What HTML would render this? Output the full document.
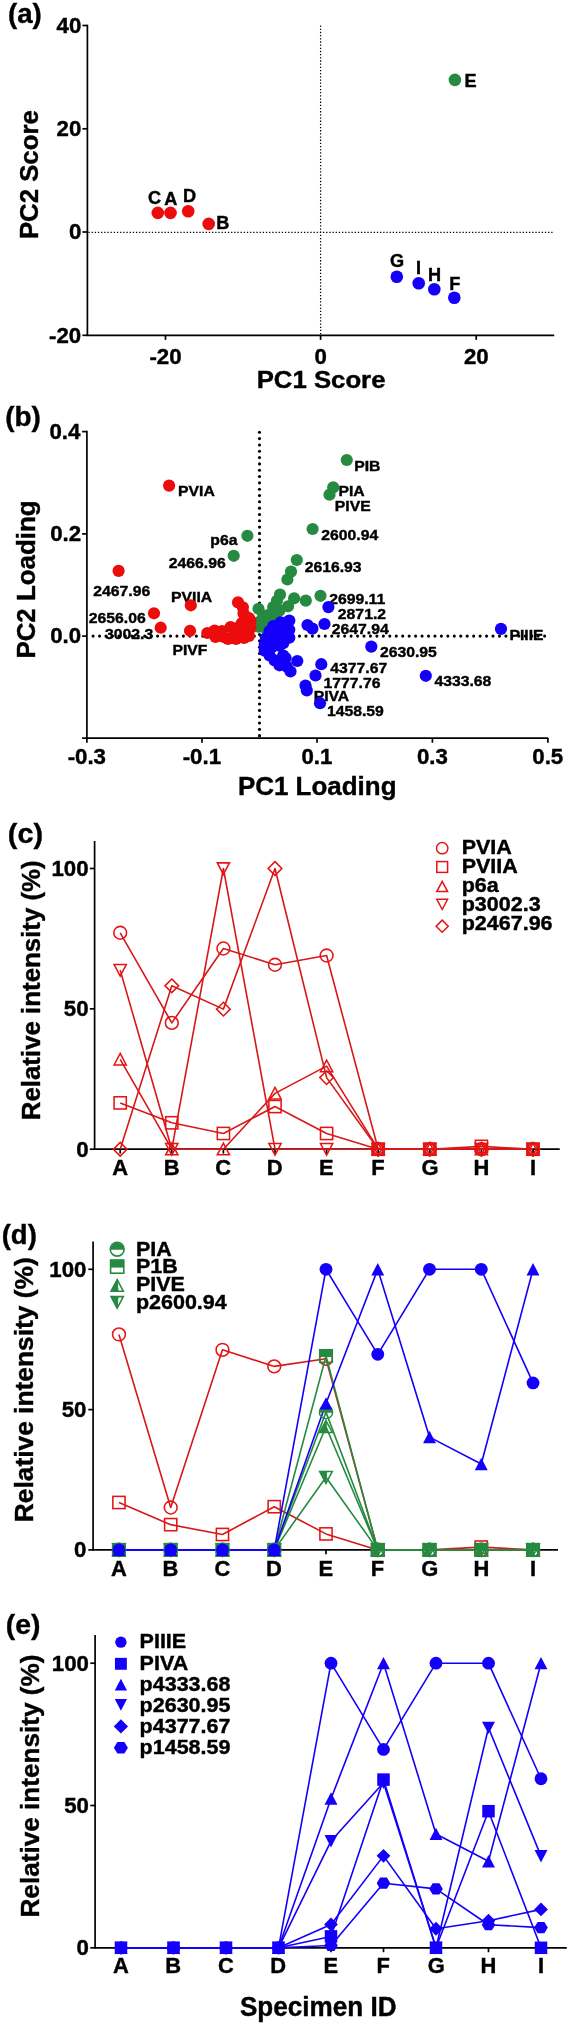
<!DOCTYPE html>
<html><head><meta charset="utf-8"><style>
html,body{margin:0;padding:0;background:#fff;}
svg{display:block;will-change:transform;}
text{font-family:"Liberation Sans",sans-serif;font-weight:bold;}
</style></head><body>
<svg width="570" height="2024" viewBox="0 0 570 2024">
<rect width="570" height="2024" fill="#fff"/>
<text transform="translate(8.02,22.90) scale(0.995,1)" font-size="27.80" fill="#000" stroke="#000" stroke-width="0.40">(a)</text>
<line x1="87.40" y1="24.70" x2="87.40" y2="336.10" stroke="#000" stroke-width="1.7" />
<line x1="86.60" y1="335.30" x2="554.20" y2="335.30" stroke="#000" stroke-width="1.7" />
<line x1="82.40" y1="25.50" x2="87.40" y2="25.50" stroke="#000" stroke-width="1.7" />
<text transform="translate(56.54,32.80) scale(1.045,1)" font-size="21.30" fill="#000" stroke="#000" stroke-width="0.40">40</text>
<line x1="82.40" y1="128.80" x2="87.40" y2="128.80" stroke="#000" stroke-width="1.7" />
<text transform="translate(56.54,136.10) scale(1.045,1)" font-size="21.30" fill="#000" stroke="#000" stroke-width="0.40">20</text>
<line x1="82.40" y1="232.00" x2="87.40" y2="232.00" stroke="#000" stroke-width="1.7" />
<text transform="translate(68.91,239.30) scale(1.045,1)" font-size="21.30" fill="#000" stroke="#000" stroke-width="0.40">0</text>
<line x1="82.40" y1="335.30" x2="87.40" y2="335.30" stroke="#000" stroke-width="1.7" />
<text transform="translate(49.10,342.60) scale(1.045,1)" font-size="21.30" fill="#000" stroke="#000" stroke-width="0.40">-20</text>
<line x1="165.50" y1="335.30" x2="165.50" y2="339.90" stroke="#000" stroke-width="1.7" />
<text transform="translate(149.41,363.50) scale(1.045,1)" font-size="21.30" fill="#000" stroke="#000" stroke-width="0.40">-20</text>
<line x1="320.60" y1="335.30" x2="320.60" y2="339.90" stroke="#000" stroke-width="1.7" />
<text transform="translate(314.41,363.50) scale(1.045,1)" font-size="21.30" fill="#000" stroke="#000" stroke-width="0.40">0</text>
<line x1="476.20" y1="335.30" x2="476.20" y2="339.90" stroke="#000" stroke-width="1.7" />
<text transform="translate(463.89,363.50) scale(1.045,1)" font-size="21.30" fill="#000" stroke="#000" stroke-width="0.40">20</text>
<text transform="translate(256.70,388.40) scale(1.073,1)" font-size="24.00" fill="#000" stroke="#000" stroke-width="0.40">PC1 Score</text>
<text transform="translate(38.20,239.10) rotate(-90) scale(0.973,1)" font-size="26.50" fill="#000" stroke="#000" stroke-width="0.4">PC2 Score</text>
<line x1="88.40" y1="232.40" x2="554.00" y2="232.40" stroke="#000" stroke-width="1.25" stroke-dasharray="1.3 1.87"/>
<line x1="320.60" y1="25.50" x2="320.60" y2="335.30" stroke="#000" stroke-width="1.25" stroke-dasharray="1.3 1.87"/>
<circle cx="157.80" cy="212.90" r="6.3" fill="#EC0C0C"/>
<text transform="translate(147.97,203.60) scale(1.020,1)" font-size="17.80" fill="#000" stroke="#000" stroke-width="0.40">C</text>
<circle cx="170.50" cy="212.90" r="6.3" fill="#EC0C0C"/>
<text transform="translate(164.25,205.00) scale(1.020,1)" font-size="17.80" fill="#000" stroke="#000" stroke-width="0.40">A</text>
<circle cx="188.20" cy="211.30" r="6.3" fill="#EC0C0C"/>
<text transform="translate(182.88,202.20) scale(1.020,1)" font-size="17.80" fill="#000" stroke="#000" stroke-width="0.40">D</text>
<circle cx="208.70" cy="223.90" r="6.3" fill="#EC0C0C"/>
<text transform="translate(216.16,229.30) scale(1.020,1)" font-size="17.80" fill="#000" stroke="#000" stroke-width="0.40">B</text>
<circle cx="454.90" cy="79.90" r="6.3" fill="#268A40"/>
<text transform="translate(464.55,86.60) scale(1.020,1)" font-size="17.80" fill="#000" stroke="#000" stroke-width="0.40">E</text>
<circle cx="396.80" cy="276.80" r="6.3" fill="#1400FA"/>
<text transform="translate(389.97,266.70) scale(1.020,1)" font-size="17.80" fill="#000" stroke="#000" stroke-width="0.40">G</text>
<circle cx="418.70" cy="283.30" r="6.3" fill="#1400FA"/>
<text transform="translate(415.94,273.70) scale(1.020,1)" font-size="17.80" fill="#000" stroke="#000" stroke-width="0.40">I</text>
<circle cx="434.30" cy="289.30" r="6.3" fill="#1400FA"/>
<text transform="translate(427.96,280.50) scale(1.020,1)" font-size="17.80" fill="#000" stroke="#000" stroke-width="0.40">H</text>
<circle cx="454.30" cy="297.70" r="6.3" fill="#1400FA"/>
<text transform="translate(449.19,289.80) scale(1.020,1)" font-size="17.80" fill="#000" stroke="#000" stroke-width="0.40">F</text>
<text transform="translate(5.20,426.40) scale(1.005,1)" font-size="27.80" fill="#000" stroke="#000" stroke-width="0.40">(b)</text>
<line x1="86.90" y1="430.80" x2="86.90" y2="738.90" stroke="#000" stroke-width="1.7" />
<line x1="86.10" y1="738.10" x2="548.10" y2="738.10" stroke="#000" stroke-width="1.7" />
<line x1="82.10" y1="431.60" x2="86.90" y2="431.60" stroke="#000" stroke-width="1.7" />
<text transform="translate(49.49,438.90) scale(1.045,1)" font-size="21.30" fill="#000" stroke="#000" stroke-width="0.40">0.4</text>
<line x1="82.10" y1="533.90" x2="86.90" y2="533.90" stroke="#000" stroke-width="1.7" />
<text transform="translate(50.25,541.20) scale(1.045,1)" font-size="21.30" fill="#000" stroke="#000" stroke-width="0.40">0.2</text>
<line x1="82.10" y1="636.10" x2="86.90" y2="636.10" stroke="#000" stroke-width="1.7" />
<text transform="translate(50.25,643.40) scale(1.045,1)" font-size="21.30" fill="#000" stroke="#000" stroke-width="0.40">0.0</text>
<line x1="82.10" y1="738.10" x2="86.90" y2="738.10" stroke="#000" stroke-width="1.7" />
<line x1="86.90" y1="738.10" x2="86.90" y2="742.70" stroke="#000" stroke-width="1.7" />
<text transform="translate(67.67,764.30) scale(1.045,1)" font-size="21.30" fill="#000" stroke="#000" stroke-width="0.40">-0.3</text>
<line x1="202.00" y1="738.10" x2="202.00" y2="742.70" stroke="#000" stroke-width="1.7" />
<text transform="translate(182.68,764.30) scale(1.045,1)" font-size="21.30" fill="#000" stroke="#000" stroke-width="0.40">-0.1</text>
<line x1="317.00" y1="738.10" x2="317.00" y2="742.70" stroke="#000" stroke-width="1.7" />
<text transform="translate(301.40,764.30) scale(1.045,1)" font-size="21.30" fill="#000" stroke="#000" stroke-width="0.40">0.1</text>
<line x1="432.40" y1="738.10" x2="432.40" y2="742.70" stroke="#000" stroke-width="1.7" />
<text transform="translate(416.89,764.30) scale(1.045,1)" font-size="21.30" fill="#000" stroke="#000" stroke-width="0.40">0.3</text>
<line x1="547.90" y1="738.10" x2="547.90" y2="742.70" stroke="#000" stroke-width="1.7" />
<text transform="translate(532.30,764.30) scale(1.045,1)" font-size="21.30" fill="#000" stroke="#000" stroke-width="0.40">0.5</text>
<text transform="translate(237.89,794.50) scale(0.999,1)" font-size="26.00" fill="#000" stroke="#000" stroke-width="0.40">PC1 Loading</text>
<text transform="translate(34.70,658.61) rotate(-90) scale(0.985,1)" font-size="26.30" fill="#000" stroke="#000" stroke-width="0.4">PC2 Loading</text>
<text transform="translate(178.06,496.00) scale(1.030,1)" font-size="15.30" fill="#000" stroke="#000" stroke-width="0.40">PVIA</text>
<text transform="translate(210.36,545.00) scale(1.030,1)" font-size="15.30" fill="#000" stroke="#000" stroke-width="0.40">p6a</text>
<text transform="translate(168.76,567.60) scale(1.030,1)" font-size="15.30" fill="#000" stroke="#000" stroke-width="0.40">2466.96</text>
<text transform="translate(93.26,596.00) scale(1.030,1)" font-size="15.30" fill="#000" stroke="#000" stroke-width="0.40">2467.96</text>
<text transform="translate(171.06,602.00) scale(1.030,1)" font-size="15.30" fill="#000" stroke="#000" stroke-width="0.40">PVIIA</text>
<text transform="translate(88.76,623.30) scale(1.030,1)" font-size="15.30" fill="#000" stroke="#000" stroke-width="0.40">2656.06</text>
<text transform="translate(105.02,638.60) scale(1.030,1)" font-size="15.30" fill="#000" stroke="#000" stroke-width="0.40">3002.3</text>
<text transform="translate(172.46,654.60) scale(1.030,1)" font-size="15.30" fill="#000" stroke="#000" stroke-width="0.40">PIVF</text>
<text transform="translate(354.16,470.80) scale(1.030,1)" font-size="15.30" fill="#000" stroke="#000" stroke-width="0.40">PIB</text>
<text transform="translate(338.46,496.00) scale(1.030,1)" font-size="15.30" fill="#000" stroke="#000" stroke-width="0.40">PIA</text>
<text transform="translate(334.76,511.00) scale(1.030,1)" font-size="15.30" fill="#000" stroke="#000" stroke-width="0.40">PIVE</text>
<text transform="translate(321.26,540.00) scale(1.030,1)" font-size="15.30" fill="#000" stroke="#000" stroke-width="0.40">2600.94</text>
<text transform="translate(304.66,571.60) scale(1.030,1)" font-size="15.30" fill="#000" stroke="#000" stroke-width="0.40">2616.93</text>
<text transform="translate(329.16,603.70) scale(1.030,1)" font-size="15.30" fill="#000" stroke="#000" stroke-width="0.40">2699.11</text>
<text transform="translate(337.86,619.00) scale(1.030,1)" font-size="15.30" fill="#000" stroke="#000" stroke-width="0.40">2871.2</text>
<text transform="translate(331.76,634.00) scale(1.030,1)" font-size="15.30" fill="#000" stroke="#000" stroke-width="0.40">2647.94</text>
<text transform="translate(379.96,656.80) scale(1.030,1)" font-size="15.30" fill="#000" stroke="#000" stroke-width="0.40">2630.95</text>
<text transform="translate(330.25,673.40) scale(1.030,1)" font-size="15.30" fill="#000" stroke="#000" stroke-width="0.40">4377.67</text>
<text transform="translate(323.52,688.40) scale(1.030,1)" font-size="15.30" fill="#000" stroke="#000" stroke-width="0.40">1777.76</text>
<text transform="translate(313.66,701.00) scale(1.030,1)" font-size="15.30" fill="#000" stroke="#000" stroke-width="0.40">PIVA</text>
<text transform="translate(326.92,715.50) scale(1.030,1)" font-size="15.30" fill="#000" stroke="#000" stroke-width="0.40">1458.59</text>
<text transform="translate(509.46,640.10) scale(1.030,1)" font-size="15.30" fill="#000" stroke="#000" stroke-width="0.40">PIIIE</text>
<text transform="translate(434.45,685.60) scale(1.030,1)" font-size="15.30" fill="#000" stroke="#000" stroke-width="0.40">4333.68</text>
<circle cx="93.10" cy="636.10" r="1.55" fill="#000"/>
<circle cx="99.55" cy="636.10" r="1.55" fill="#000"/>
<circle cx="106.00" cy="636.10" r="1.55" fill="#000"/>
<circle cx="112.45" cy="636.10" r="1.55" fill="#000"/>
<circle cx="118.90" cy="636.10" r="1.55" fill="#000"/>
<circle cx="125.35" cy="636.10" r="1.55" fill="#000"/>
<circle cx="131.80" cy="636.10" r="1.55" fill="#000"/>
<circle cx="138.25" cy="636.10" r="1.55" fill="#000"/>
<circle cx="144.70" cy="636.10" r="1.55" fill="#000"/>
<circle cx="151.15" cy="636.10" r="1.55" fill="#000"/>
<circle cx="157.60" cy="636.10" r="1.55" fill="#000"/>
<circle cx="164.05" cy="636.10" r="1.55" fill="#000"/>
<circle cx="170.50" cy="636.10" r="1.55" fill="#000"/>
<circle cx="176.95" cy="636.10" r="1.55" fill="#000"/>
<circle cx="183.40" cy="636.10" r="1.55" fill="#000"/>
<circle cx="189.85" cy="636.10" r="1.55" fill="#000"/>
<circle cx="196.30" cy="636.10" r="1.55" fill="#000"/>
<circle cx="202.75" cy="636.10" r="1.55" fill="#000"/>
<circle cx="209.20" cy="636.10" r="1.55" fill="#000"/>
<circle cx="215.65" cy="636.10" r="1.55" fill="#000"/>
<circle cx="222.10" cy="636.10" r="1.55" fill="#000"/>
<circle cx="228.55" cy="636.10" r="1.55" fill="#000"/>
<circle cx="235.00" cy="636.10" r="1.55" fill="#000"/>
<circle cx="241.45" cy="636.10" r="1.55" fill="#000"/>
<circle cx="247.90" cy="636.10" r="1.55" fill="#000"/>
<circle cx="254.35" cy="636.10" r="1.55" fill="#000"/>
<circle cx="260.80" cy="636.10" r="1.55" fill="#000"/>
<circle cx="267.25" cy="636.10" r="1.55" fill="#000"/>
<circle cx="273.70" cy="636.10" r="1.55" fill="#000"/>
<circle cx="280.15" cy="636.10" r="1.55" fill="#000"/>
<circle cx="286.60" cy="636.10" r="1.55" fill="#000"/>
<circle cx="293.05" cy="636.10" r="1.55" fill="#000"/>
<circle cx="299.50" cy="636.10" r="1.55" fill="#000"/>
<circle cx="305.95" cy="636.10" r="1.55" fill="#000"/>
<circle cx="312.40" cy="636.10" r="1.55" fill="#000"/>
<circle cx="318.85" cy="636.10" r="1.55" fill="#000"/>
<circle cx="325.30" cy="636.10" r="1.55" fill="#000"/>
<circle cx="331.75" cy="636.10" r="1.55" fill="#000"/>
<circle cx="338.20" cy="636.10" r="1.55" fill="#000"/>
<circle cx="344.65" cy="636.10" r="1.55" fill="#000"/>
<circle cx="351.10" cy="636.10" r="1.55" fill="#000"/>
<circle cx="357.55" cy="636.10" r="1.55" fill="#000"/>
<circle cx="364.00" cy="636.10" r="1.55" fill="#000"/>
<circle cx="370.45" cy="636.10" r="1.55" fill="#000"/>
<circle cx="376.90" cy="636.10" r="1.55" fill="#000"/>
<circle cx="383.35" cy="636.10" r="1.55" fill="#000"/>
<circle cx="389.80" cy="636.10" r="1.55" fill="#000"/>
<circle cx="396.25" cy="636.10" r="1.55" fill="#000"/>
<circle cx="402.70" cy="636.10" r="1.55" fill="#000"/>
<circle cx="409.15" cy="636.10" r="1.55" fill="#000"/>
<circle cx="415.60" cy="636.10" r="1.55" fill="#000"/>
<circle cx="422.05" cy="636.10" r="1.55" fill="#000"/>
<circle cx="428.50" cy="636.10" r="1.55" fill="#000"/>
<circle cx="434.95" cy="636.10" r="1.55" fill="#000"/>
<circle cx="441.40" cy="636.10" r="1.55" fill="#000"/>
<circle cx="447.85" cy="636.10" r="1.55" fill="#000"/>
<circle cx="454.30" cy="636.10" r="1.55" fill="#000"/>
<circle cx="460.75" cy="636.10" r="1.55" fill="#000"/>
<circle cx="467.20" cy="636.10" r="1.55" fill="#000"/>
<circle cx="473.65" cy="636.10" r="1.55" fill="#000"/>
<circle cx="480.10" cy="636.10" r="1.55" fill="#000"/>
<circle cx="486.55" cy="636.10" r="1.55" fill="#000"/>
<circle cx="493.00" cy="636.10" r="1.55" fill="#000"/>
<circle cx="499.45" cy="636.10" r="1.55" fill="#000"/>
<circle cx="505.90" cy="636.10" r="1.55" fill="#000"/>
<circle cx="512.35" cy="636.10" r="1.55" fill="#000"/>
<circle cx="518.80" cy="636.10" r="1.55" fill="#000"/>
<circle cx="525.25" cy="636.10" r="1.55" fill="#000"/>
<circle cx="531.70" cy="636.10" r="1.55" fill="#000"/>
<circle cx="538.15" cy="636.10" r="1.55" fill="#000"/>
<circle cx="544.60" cy="636.10" r="1.55" fill="#000"/>
<circle cx="259.50" cy="432.30" r="1.55" fill="#000"/>
<circle cx="259.50" cy="438.62" r="1.55" fill="#000"/>
<circle cx="259.50" cy="444.94" r="1.55" fill="#000"/>
<circle cx="259.50" cy="451.26" r="1.55" fill="#000"/>
<circle cx="259.50" cy="457.58" r="1.55" fill="#000"/>
<circle cx="259.50" cy="463.90" r="1.55" fill="#000"/>
<circle cx="259.50" cy="470.22" r="1.55" fill="#000"/>
<circle cx="259.50" cy="476.54" r="1.55" fill="#000"/>
<circle cx="259.50" cy="482.86" r="1.55" fill="#000"/>
<circle cx="259.50" cy="489.18" r="1.55" fill="#000"/>
<circle cx="259.50" cy="495.50" r="1.55" fill="#000"/>
<circle cx="259.50" cy="501.82" r="1.55" fill="#000"/>
<circle cx="259.50" cy="508.14" r="1.55" fill="#000"/>
<circle cx="259.50" cy="514.46" r="1.55" fill="#000"/>
<circle cx="259.50" cy="520.78" r="1.55" fill="#000"/>
<circle cx="259.50" cy="527.10" r="1.55" fill="#000"/>
<circle cx="259.50" cy="533.42" r="1.55" fill="#000"/>
<circle cx="259.50" cy="539.74" r="1.55" fill="#000"/>
<circle cx="259.50" cy="546.06" r="1.55" fill="#000"/>
<circle cx="259.50" cy="552.38" r="1.55" fill="#000"/>
<circle cx="259.50" cy="558.70" r="1.55" fill="#000"/>
<circle cx="259.50" cy="565.02" r="1.55" fill="#000"/>
<circle cx="259.50" cy="571.34" r="1.55" fill="#000"/>
<circle cx="259.50" cy="577.66" r="1.55" fill="#000"/>
<circle cx="259.50" cy="583.98" r="1.55" fill="#000"/>
<circle cx="259.50" cy="590.30" r="1.55" fill="#000"/>
<circle cx="259.50" cy="596.62" r="1.55" fill="#000"/>
<circle cx="259.50" cy="602.94" r="1.55" fill="#000"/>
<circle cx="259.50" cy="609.26" r="1.55" fill="#000"/>
<circle cx="259.50" cy="615.58" r="1.55" fill="#000"/>
<circle cx="259.50" cy="621.90" r="1.55" fill="#000"/>
<circle cx="259.50" cy="628.22" r="1.55" fill="#000"/>
<circle cx="259.50" cy="634.54" r="1.55" fill="#000"/>
<circle cx="259.50" cy="640.86" r="1.55" fill="#000"/>
<circle cx="259.50" cy="647.18" r="1.55" fill="#000"/>
<circle cx="259.50" cy="653.50" r="1.55" fill="#000"/>
<circle cx="259.50" cy="659.82" r="1.55" fill="#000"/>
<circle cx="259.50" cy="666.14" r="1.55" fill="#000"/>
<circle cx="259.50" cy="672.46" r="1.55" fill="#000"/>
<circle cx="259.50" cy="678.78" r="1.55" fill="#000"/>
<circle cx="259.50" cy="685.10" r="1.55" fill="#000"/>
<circle cx="259.50" cy="691.42" r="1.55" fill="#000"/>
<circle cx="259.50" cy="697.74" r="1.55" fill="#000"/>
<circle cx="259.50" cy="704.06" r="1.55" fill="#000"/>
<circle cx="259.50" cy="710.38" r="1.55" fill="#000"/>
<circle cx="259.50" cy="716.70" r="1.55" fill="#000"/>
<circle cx="259.50" cy="723.02" r="1.55" fill="#000"/>
<circle cx="259.50" cy="729.34" r="1.55" fill="#000"/>
<circle cx="259.50" cy="735.66" r="1.55" fill="#000"/>
<circle cx="258.50" cy="608.80" r="6.1" fill="#268A40"/>
<circle cx="280.00" cy="594.60" r="6.1" fill="#268A40"/>
<circle cx="276.90" cy="600.80" r="6.1" fill="#268A40"/>
<circle cx="273.20" cy="607.00" r="6.1" fill="#268A40"/>
<circle cx="263.40" cy="615.50" r="6.1" fill="#268A40"/>
<circle cx="269.60" cy="614.30" r="6.1" fill="#268A40"/>
<circle cx="275.70" cy="611.80" r="6.1" fill="#268A40"/>
<circle cx="279.40" cy="610.60" r="6.1" fill="#268A40"/>
<circle cx="259.70" cy="621.70" r="6.1" fill="#268A40"/>
<circle cx="267.10" cy="621.70" r="6.1" fill="#268A40"/>
<circle cx="275.70" cy="619.20" r="6.1" fill="#268A40"/>
<circle cx="258.50" cy="626.60" r="6.1" fill="#268A40"/>
<circle cx="264.60" cy="627.80" r="6.1" fill="#268A40"/>
<circle cx="270.00" cy="625.00" r="6.1" fill="#268A40"/>
<circle cx="346.80" cy="460.00" r="6.1" fill="#268A40"/>
<circle cx="333.20" cy="487.40" r="6.1" fill="#268A40"/>
<circle cx="329.50" cy="494.70" r="6.1" fill="#268A40"/>
<circle cx="312.60" cy="529.00" r="6.1" fill="#268A40"/>
<circle cx="296.80" cy="560.00" r="6.1" fill="#268A40"/>
<circle cx="291.00" cy="571.60" r="6.1" fill="#268A40"/>
<circle cx="287.40" cy="579.50" r="6.1" fill="#268A40"/>
<circle cx="247.40" cy="535.80" r="6.1" fill="#268A40"/>
<circle cx="233.70" cy="555.80" r="6.1" fill="#268A40"/>
<circle cx="320.50" cy="595.80" r="6.1" fill="#268A40"/>
<circle cx="305.80" cy="600.60" r="6.1" fill="#268A40"/>
<circle cx="294.10" cy="598.30" r="6.1" fill="#268A40"/>
<circle cx="288.00" cy="606.30" r="6.1" fill="#268A40"/>
<circle cx="250.50" cy="620.50" r="6.1" fill="#EC0C0C"/>
<circle cx="250.50" cy="628.00" r="6.1" fill="#EC0C0C"/>
<circle cx="238.00" cy="602.40" r="6.1" fill="#EC0C0C"/>
<circle cx="242.90" cy="607.30" r="6.1" fill="#EC0C0C"/>
<circle cx="243.50" cy="613.40" r="6.1" fill="#EC0C0C"/>
<circle cx="249.00" cy="618.00" r="6.1" fill="#EC0C0C"/>
<circle cx="241.70" cy="623.20" r="6.1" fill="#EC0C0C"/>
<circle cx="249.00" cy="622.00" r="6.1" fill="#EC0C0C"/>
<circle cx="250.00" cy="627.00" r="6.1" fill="#EC0C0C"/>
<circle cx="247.80" cy="631.80" r="6.1" fill="#EC0C0C"/>
<circle cx="249.00" cy="636.00" r="6.1" fill="#EC0C0C"/>
<circle cx="240.40" cy="634.30" r="6.1" fill="#EC0C0C"/>
<circle cx="233.00" cy="636.80" r="6.1" fill="#EC0C0C"/>
<circle cx="230.60" cy="627.00" r="6.1" fill="#EC0C0C"/>
<circle cx="237.00" cy="628.00" r="6.1" fill="#EC0C0C"/>
<circle cx="223.20" cy="636.80" r="6.1" fill="#EC0C0C"/>
<circle cx="222.00" cy="631.00" r="6.1" fill="#EC0C0C"/>
<circle cx="214.60" cy="630.60" r="6.1" fill="#EC0C0C"/>
<circle cx="215.50" cy="637.00" r="6.1" fill="#EC0C0C"/>
<circle cx="207.30" cy="633.00" r="6.1" fill="#EC0C0C"/>
<circle cx="228.00" cy="639.00" r="6.1" fill="#EC0C0C"/>
<circle cx="236.00" cy="639.00" r="6.1" fill="#EC0C0C"/>
<circle cx="244.00" cy="638.00" r="6.1" fill="#EC0C0C"/>
<circle cx="169.10" cy="485.60" r="6.1" fill="#EC0C0C"/>
<circle cx="118.60" cy="570.90" r="6.1" fill="#EC0C0C"/>
<circle cx="190.80" cy="605.30" r="6.1" fill="#EC0C0C"/>
<circle cx="154.00" cy="613.30" r="6.1" fill="#EC0C0C"/>
<circle cx="160.70" cy="627.70" r="6.1" fill="#EC0C0C"/>
<circle cx="190.00" cy="630.80" r="6.1" fill="#EC0C0C"/>
<circle cx="289.30" cy="620.50" r="6.1" fill="#1400FA"/>
<circle cx="280.70" cy="622.40" r="6.1" fill="#1400FA"/>
<circle cx="273.30" cy="626.00" r="6.1" fill="#1400FA"/>
<circle cx="269.60" cy="631.00" r="6.1" fill="#1400FA"/>
<circle cx="289.30" cy="629.70" r="6.1" fill="#1400FA"/>
<circle cx="289.30" cy="637.70" r="6.1" fill="#1400FA"/>
<circle cx="281.90" cy="638.30" r="6.1" fill="#1400FA"/>
<circle cx="274.60" cy="637.10" r="6.1" fill="#1400FA"/>
<circle cx="264.70" cy="644.50" r="6.1" fill="#1400FA"/>
<circle cx="264.70" cy="650.60" r="6.1" fill="#1400FA"/>
<circle cx="272.10" cy="647.00" r="6.1" fill="#1400FA"/>
<circle cx="279.50" cy="645.70" r="6.1" fill="#1400FA"/>
<circle cx="283.20" cy="643.20" r="6.1" fill="#1400FA"/>
<circle cx="269.60" cy="655.50" r="6.1" fill="#1400FA"/>
<circle cx="274.60" cy="660.40" r="6.1" fill="#1400FA"/>
<circle cx="279.50" cy="665.30" r="6.1" fill="#1400FA"/>
<circle cx="283.20" cy="655.50" r="6.1" fill="#1400FA"/>
<circle cx="285.60" cy="658.00" r="6.1" fill="#1400FA"/>
<circle cx="286.80" cy="666.60" r="6.1" fill="#1400FA"/>
<circle cx="266.00" cy="638.00" r="6.1" fill="#1400FA"/>
<circle cx="276.90" cy="630.00" r="6.1" fill="#1400FA"/>
<circle cx="284.00" cy="631.00" r="6.1" fill="#1400FA"/>
<circle cx="268.00" cy="650.00" r="6.1" fill="#1400FA"/>
<circle cx="501.00" cy="628.90" r="6.1" fill="#1400FA"/>
<circle cx="425.80" cy="675.80" r="6.1" fill="#1400FA"/>
<circle cx="371.30" cy="646.60" r="6.1" fill="#1400FA"/>
<circle cx="328.40" cy="607.10" r="6.1" fill="#1400FA"/>
<circle cx="324.50" cy="624.00" r="6.1" fill="#1400FA"/>
<circle cx="312.40" cy="628.60" r="6.1" fill="#1400FA"/>
<circle cx="307.50" cy="625.00" r="6.1" fill="#1400FA"/>
<circle cx="321.30" cy="664.20" r="6.1" fill="#1400FA"/>
<circle cx="315.50" cy="675.50" r="6.1" fill="#1400FA"/>
<circle cx="305.50" cy="685.50" r="6.1" fill="#1400FA"/>
<circle cx="306.80" cy="690.50" r="6.1" fill="#1400FA"/>
<circle cx="320.00" cy="703.20" r="6.1" fill="#1400FA"/>
<circle cx="297.30" cy="661.00" r="6.1" fill="#1400FA"/>
<circle cx="290.50" cy="671.50" r="6.1" fill="#1400FA"/>
<text transform="translate(7.86,842.50) scale(1.034,1)" font-size="27.80" fill="#000" stroke="#000" stroke-width="0.40">(c)</text>
<line x1="94.60" y1="841.00" x2="94.60" y2="1150.00" stroke="#000" stroke-width="1.7" />
<line x1="93.80" y1="1149.20" x2="559.70" y2="1149.20" stroke="#000" stroke-width="1.7" />
<line x1="89.80" y1="868.50" x2="94.60" y2="868.50" stroke="#000" stroke-width="1.7" />
<text transform="translate(51.46,875.80) scale(1.045,1)" font-size="21.30" fill="#000" stroke="#000" stroke-width="0.40">100</text>
<line x1="89.80" y1="1008.85" x2="94.60" y2="1008.85" stroke="#000" stroke-width="1.7" />
<text transform="translate(63.84,1016.15) scale(1.045,1)" font-size="21.30" fill="#000" stroke="#000" stroke-width="0.40">50</text>
<line x1="89.80" y1="1149.20" x2="94.60" y2="1149.20" stroke="#000" stroke-width="1.7" />
<text transform="translate(76.21,1156.50) scale(1.045,1)" font-size="21.30" fill="#000" stroke="#000" stroke-width="0.40">0</text>
<line x1="120.20" y1="1149.20" x2="120.20" y2="1153.60" stroke="#000" stroke-width="1.7" />
<text transform="translate(112.28,1174.50) scale(1.020,1)" font-size="21.50" fill="#000" stroke="#000" stroke-width="0.40">A</text>
<line x1="171.80" y1="1149.20" x2="171.80" y2="1153.60" stroke="#000" stroke-width="1.7" />
<text transform="translate(163.66,1174.50) scale(1.020,1)" font-size="21.50" fill="#000" stroke="#000" stroke-width="0.40">B</text>
<line x1="223.40" y1="1149.20" x2="223.40" y2="1153.60" stroke="#000" stroke-width="1.7" />
<text transform="translate(215.33,1174.50) scale(1.020,1)" font-size="21.50" fill="#000" stroke="#000" stroke-width="0.40">C</text>
<line x1="275.00" y1="1149.20" x2="275.00" y2="1153.60" stroke="#000" stroke-width="1.7" />
<text transform="translate(266.82,1174.50) scale(1.020,1)" font-size="21.50" fill="#000" stroke="#000" stroke-width="0.40">D</text>
<line x1="326.60" y1="1149.20" x2="326.60" y2="1153.60" stroke="#000" stroke-width="1.7" />
<text transform="translate(318.99,1174.50) scale(1.020,1)" font-size="21.50" fill="#000" stroke="#000" stroke-width="0.40">E</text>
<line x1="378.20" y1="1149.20" x2="378.20" y2="1153.60" stroke="#000" stroke-width="1.7" />
<text transform="translate(371.18,1174.50) scale(1.020,1)" font-size="21.50" fill="#000" stroke="#000" stroke-width="0.40">F</text>
<line x1="429.80" y1="1149.20" x2="429.80" y2="1153.60" stroke="#000" stroke-width="1.7" />
<text transform="translate(421.49,1174.50) scale(1.020,1)" font-size="21.50" fill="#000" stroke="#000" stroke-width="0.40">G</text>
<line x1="481.40" y1="1149.20" x2="481.40" y2="1153.60" stroke="#000" stroke-width="1.7" />
<text transform="translate(473.51,1174.50) scale(1.020,1)" font-size="21.50" fill="#000" stroke="#000" stroke-width="0.40">H</text>
<line x1="533.00" y1="1149.20" x2="533.00" y2="1153.60" stroke="#000" stroke-width="1.7" />
<text transform="translate(529.97,1174.50) scale(1.020,1)" font-size="21.50" fill="#000" stroke="#000" stroke-width="0.40">I</text>
<text transform="translate(40.00,1120.21) rotate(-90) scale(0.983,1)" font-size="26.30" fill="#000" stroke="#000" stroke-width="0.4">Relative intensity (%)</text>
<polyline points="120.20,932.78 171.80,1022.88 223.40,948.50 275.00,964.78 326.60,955.52 378.20,1149.20 429.80,1149.20 481.40,1149.20 533.00,1149.20" fill="none" stroke="#D81818" stroke-width="1.6" stroke-linejoin="round"/>
<polyline points="120.20,1102.88 171.80,1122.81 223.40,1133.48 275.00,1106.53 326.60,1133.48 378.20,1149.20 429.80,1149.20 481.40,1146.39 533.00,1149.20" fill="none" stroke="#D81818" stroke-width="1.6" stroke-linejoin="round"/>
<polyline points="120.20,1059.38 171.80,1149.20 223.40,1149.20 275.00,1093.34 326.60,1066.11 378.20,1149.20 429.80,1149.20 481.40,1149.20 533.00,1149.20" fill="none" stroke="#D81818" stroke-width="1.6" stroke-linejoin="round"/>
<polyline points="120.20,970.11 171.80,1149.20 223.40,868.50 275.00,1149.20 326.60,1149.20 378.20,1149.20 429.80,1149.20 481.40,1149.20 533.00,1149.20" fill="none" stroke="#D81818" stroke-width="1.6" stroke-linejoin="round"/>
<polyline points="120.20,1149.20 171.80,985.83 223.40,1009.13 275.00,868.50 326.60,1077.62 378.20,1149.20 429.80,1149.20 481.40,1149.20 533.00,1149.20" fill="none" stroke="#D81818" stroke-width="1.6" stroke-linejoin="round"/>
<circle cx="120.20" cy="932.78" r="6.41" fill="none" stroke="#E41414" stroke-width="1.55"/>
<circle cx="171.80" cy="1022.88" r="6.41" fill="none" stroke="#E41414" stroke-width="1.55"/>
<circle cx="223.40" cy="948.50" r="6.41" fill="none" stroke="#E41414" stroke-width="1.55"/>
<circle cx="275.00" cy="964.78" r="6.41" fill="none" stroke="#E41414" stroke-width="1.55"/>
<circle cx="326.60" cy="955.52" r="6.41" fill="none" stroke="#E41414" stroke-width="1.55"/>
<circle cx="378.20" cy="1149.20" r="6.41" fill="none" stroke="#E41414" stroke-width="1.55"/>
<circle cx="429.80" cy="1149.20" r="6.41" fill="none" stroke="#E41414" stroke-width="1.55"/>
<circle cx="481.40" cy="1149.20" r="6.41" fill="none" stroke="#E41414" stroke-width="1.55"/>
<circle cx="533.00" cy="1149.20" r="6.41" fill="none" stroke="#E41414" stroke-width="1.55"/>
<rect x="114.10" y="1096.78" width="12.20" height="12.20" fill="none" stroke="#E41414" stroke-width="1.55"/>
<rect x="165.70" y="1116.71" width="12.20" height="12.20" fill="none" stroke="#E41414" stroke-width="1.55"/>
<rect x="217.30" y="1127.38" width="12.20" height="12.20" fill="none" stroke="#E41414" stroke-width="1.55"/>
<rect x="268.90" y="1100.43" width="12.20" height="12.20" fill="none" stroke="#E41414" stroke-width="1.55"/>
<rect x="320.50" y="1127.38" width="12.20" height="12.20" fill="none" stroke="#E41414" stroke-width="1.55"/>
<rect x="372.10" y="1143.10" width="12.20" height="12.20" fill="none" stroke="#E41414" stroke-width="1.55"/>
<rect x="423.70" y="1143.10" width="12.20" height="12.20" fill="none" stroke="#E41414" stroke-width="1.55"/>
<rect x="475.30" y="1140.29" width="12.20" height="12.20" fill="none" stroke="#E41414" stroke-width="1.55"/>
<rect x="526.90" y="1143.10" width="12.20" height="12.20" fill="none" stroke="#E41414" stroke-width="1.55"/>
<polygon points="120.20,1053.40 126.30,1064.99 114.10,1064.99" fill="none" stroke="#E41414" stroke-width="1.55" stroke-linejoin="miter"/>
<polygon points="171.80,1143.22 177.90,1154.81 165.70,1154.81" fill="none" stroke="#E41414" stroke-width="1.55" stroke-linejoin="miter"/>
<polygon points="223.40,1143.22 229.50,1154.81 217.30,1154.81" fill="none" stroke="#E41414" stroke-width="1.55" stroke-linejoin="miter"/>
<polygon points="275.00,1087.36 281.10,1098.95 268.90,1098.95" fill="none" stroke="#E41414" stroke-width="1.55" stroke-linejoin="miter"/>
<polygon points="326.60,1060.13 332.70,1071.72 320.50,1071.72" fill="none" stroke="#E41414" stroke-width="1.55" stroke-linejoin="miter"/>
<polygon points="378.20,1143.22 384.30,1154.81 372.10,1154.81" fill="none" stroke="#E41414" stroke-width="1.55" stroke-linejoin="miter"/>
<polygon points="429.80,1143.22 435.90,1154.81 423.70,1154.81" fill="none" stroke="#E41414" stroke-width="1.55" stroke-linejoin="miter"/>
<polygon points="481.40,1143.22 487.50,1154.81 475.30,1154.81" fill="none" stroke="#E41414" stroke-width="1.55" stroke-linejoin="miter"/>
<polygon points="533.00,1143.22 539.10,1154.81 526.90,1154.81" fill="none" stroke="#E41414" stroke-width="1.55" stroke-linejoin="miter"/>
<polygon points="120.20,976.09 126.30,964.50 114.10,964.50" fill="none" stroke="#E41414" stroke-width="1.55" stroke-linejoin="miter"/>
<polygon points="171.80,1155.18 177.90,1143.59 165.70,1143.59" fill="none" stroke="#E41414" stroke-width="1.55" stroke-linejoin="miter"/>
<polygon points="223.40,874.48 229.50,862.89 217.30,862.89" fill="none" stroke="#E41414" stroke-width="1.55" stroke-linejoin="miter"/>
<polygon points="275.00,1155.18 281.10,1143.59 268.90,1143.59" fill="none" stroke="#E41414" stroke-width="1.55" stroke-linejoin="miter"/>
<polygon points="326.60,1155.18 332.70,1143.59 320.50,1143.59" fill="none" stroke="#E41414" stroke-width="1.55" stroke-linejoin="miter"/>
<polygon points="378.20,1155.18 384.30,1143.59 372.10,1143.59" fill="none" stroke="#E41414" stroke-width="1.55" stroke-linejoin="miter"/>
<polygon points="429.80,1155.18 435.90,1143.59 423.70,1143.59" fill="none" stroke="#E41414" stroke-width="1.55" stroke-linejoin="miter"/>
<polygon points="481.40,1155.18 487.50,1143.59 475.30,1143.59" fill="none" stroke="#E41414" stroke-width="1.55" stroke-linejoin="miter"/>
<polygon points="533.00,1155.18 539.10,1143.59 526.90,1143.59" fill="none" stroke="#E41414" stroke-width="1.55" stroke-linejoin="miter"/>
<polygon points="120.20,1142.37 127.03,1149.20 120.20,1156.03 113.37,1149.20" fill="none" stroke="#E41414" stroke-width="1.55" stroke-linejoin="miter"/>
<polygon points="171.80,979.00 178.63,985.83 171.80,992.66 164.97,985.83" fill="none" stroke="#E41414" stroke-width="1.55" stroke-linejoin="miter"/>
<polygon points="223.40,1002.30 230.23,1009.13 223.40,1015.96 216.57,1009.13" fill="none" stroke="#E41414" stroke-width="1.55" stroke-linejoin="miter"/>
<polygon points="275.00,861.67 281.83,868.50 275.00,875.33 268.17,868.50" fill="none" stroke="#E41414" stroke-width="1.55" stroke-linejoin="miter"/>
<polygon points="326.60,1070.79 333.43,1077.62 326.60,1084.45 319.77,1077.62" fill="none" stroke="#E41414" stroke-width="1.55" stroke-linejoin="miter"/>
<polygon points="378.20,1142.37 385.03,1149.20 378.20,1156.03 371.37,1149.20" fill="none" stroke="#E41414" stroke-width="1.55" stroke-linejoin="miter"/>
<polygon points="429.80,1142.37 436.63,1149.20 429.80,1156.03 422.97,1149.20" fill="none" stroke="#E41414" stroke-width="1.55" stroke-linejoin="miter"/>
<polygon points="481.40,1142.37 488.23,1149.20 481.40,1156.03 474.57,1149.20" fill="none" stroke="#E41414" stroke-width="1.55" stroke-linejoin="miter"/>
<polygon points="533.00,1142.37 539.83,1149.20 533.00,1156.03 526.17,1149.20" fill="none" stroke="#E41414" stroke-width="1.55" stroke-linejoin="miter"/>
<circle cx="442.20" cy="848.20" r="5.67" fill="none" stroke="#E41414" stroke-width="1.5"/>
<text transform="translate(461.68,854.40) scale(1.060,1)" font-size="20.30" fill="#000" stroke="#000" stroke-width="0.40">PVIA</text>
<rect x="436.80" y="861.60" width="10.80" height="10.80" fill="none" stroke="#E41414" stroke-width="1.5"/>
<text transform="translate(461.68,872.60) scale(1.060,1)" font-size="20.30" fill="#000" stroke="#000" stroke-width="0.40">PVIIA</text>
<polygon points="442.20,881.31 447.60,891.57 436.80,891.57" fill="none" stroke="#E41414" stroke-width="1.5" stroke-linejoin="miter"/>
<text transform="translate(461.68,891.90) scale(1.060,1)" font-size="20.30" fill="#000" stroke="#000" stroke-width="0.40">p6a</text>
<polygon points="442.20,909.49 447.60,899.23 436.80,899.23" fill="none" stroke="#E41414" stroke-width="1.5" stroke-linejoin="miter"/>
<text transform="translate(461.68,911.20) scale(1.060,1)" font-size="20.30" fill="#000" stroke="#000" stroke-width="0.40">p3002.3</text>
<polygon points="442.20,920.15 448.25,926.20 442.20,932.25 436.15,926.20" fill="none" stroke="#E41414" stroke-width="1.5" stroke-linejoin="miter"/>
<text transform="translate(461.68,930.30) scale(1.060,1)" font-size="20.30" fill="#000" stroke="#000" stroke-width="0.40">p2467.96</text>
<text transform="translate(1.72,1244.00) scale(0.989,1)" font-size="27.80" fill="#000" stroke="#000" stroke-width="0.40">(d)</text>
<line x1="93.10" y1="1241.60" x2="93.10" y2="1550.70" stroke="#000" stroke-width="1.7" />
<line x1="92.30" y1="1549.90" x2="558.00" y2="1549.90" stroke="#000" stroke-width="1.7" />
<line x1="88.30" y1="1269.30" x2="93.10" y2="1269.30" stroke="#000" stroke-width="1.7" />
<text transform="translate(49.26,1276.60) scale(1.045,1)" font-size="21.30" fill="#000" stroke="#000" stroke-width="0.40">100</text>
<line x1="88.30" y1="1409.60" x2="93.10" y2="1409.60" stroke="#000" stroke-width="1.7" />
<text transform="translate(61.64,1416.90) scale(1.045,1)" font-size="21.30" fill="#000" stroke="#000" stroke-width="0.40">50</text>
<line x1="88.30" y1="1549.90" x2="93.10" y2="1549.90" stroke="#000" stroke-width="1.7" />
<text transform="translate(74.01,1557.20) scale(1.045,1)" font-size="21.30" fill="#000" stroke="#000" stroke-width="0.40">0</text>
<line x1="118.95" y1="1549.90" x2="118.95" y2="1554.30" stroke="#000" stroke-width="1.7" />
<text transform="translate(111.03,1575.90) scale(1.020,1)" font-size="21.50" fill="#000" stroke="#000" stroke-width="0.40">A</text>
<line x1="170.71" y1="1549.90" x2="170.71" y2="1554.30" stroke="#000" stroke-width="1.7" />
<text transform="translate(162.57,1575.90) scale(1.020,1)" font-size="21.50" fill="#000" stroke="#000" stroke-width="0.40">B</text>
<line x1="222.47" y1="1549.90" x2="222.47" y2="1554.30" stroke="#000" stroke-width="1.7" />
<text transform="translate(214.40,1575.90) scale(1.020,1)" font-size="21.50" fill="#000" stroke="#000" stroke-width="0.40">C</text>
<line x1="274.23" y1="1549.90" x2="274.23" y2="1554.30" stroke="#000" stroke-width="1.7" />
<text transform="translate(266.05,1575.90) scale(1.020,1)" font-size="21.50" fill="#000" stroke="#000" stroke-width="0.40">D</text>
<line x1="325.99" y1="1549.90" x2="325.99" y2="1554.30" stroke="#000" stroke-width="1.7" />
<text transform="translate(318.38,1575.90) scale(1.020,1)" font-size="21.50" fill="#000" stroke="#000" stroke-width="0.40">E</text>
<line x1="377.75" y1="1549.90" x2="377.75" y2="1554.30" stroke="#000" stroke-width="1.7" />
<text transform="translate(370.73,1575.90) scale(1.020,1)" font-size="21.50" fill="#000" stroke="#000" stroke-width="0.40">F</text>
<line x1="429.51" y1="1549.90" x2="429.51" y2="1554.30" stroke="#000" stroke-width="1.7" />
<text transform="translate(421.20,1575.90) scale(1.020,1)" font-size="21.50" fill="#000" stroke="#000" stroke-width="0.40">G</text>
<line x1="481.27" y1="1549.90" x2="481.27" y2="1554.30" stroke="#000" stroke-width="1.7" />
<text transform="translate(473.38,1575.90) scale(1.020,1)" font-size="21.50" fill="#000" stroke="#000" stroke-width="0.40">H</text>
<line x1="533.03" y1="1549.90" x2="533.03" y2="1554.30" stroke="#000" stroke-width="1.7" />
<text transform="translate(530.00,1575.90) scale(1.020,1)" font-size="21.50" fill="#000" stroke="#000" stroke-width="0.40">I</text>
<text transform="translate(33.30,1522.24) rotate(-90) scale(1.002,1)" font-size="26.30" fill="#000" stroke="#000" stroke-width="0.4">Relative intensity (%)</text>
<polyline points="118.95,1334.40 170.71,1507.53 222.47,1349.83 274.23,1366.39 325.99,1358.81 377.75,1549.90 429.51,1549.90 481.27,1549.90 533.03,1549.90" fill="none" stroke="#D81818" stroke-width="1.6" stroke-linejoin="round"/>
<circle cx="118.95" cy="1334.40" r="6.41" fill="none" stroke="#E41414" stroke-width="1.55"/>
<circle cx="170.71" cy="1507.53" r="6.41" fill="none" stroke="#E41414" stroke-width="1.55"/>
<circle cx="222.47" cy="1349.83" r="6.41" fill="none" stroke="#E41414" stroke-width="1.55"/>
<circle cx="274.23" cy="1366.39" r="6.41" fill="none" stroke="#E41414" stroke-width="1.55"/>
<circle cx="325.99" cy="1358.81" r="6.41" fill="none" stroke="#E41414" stroke-width="1.55"/>
<circle cx="377.75" cy="1549.90" r="6.41" fill="none" stroke="#E41414" stroke-width="1.55"/>
<circle cx="429.51" cy="1549.90" r="6.41" fill="none" stroke="#E41414" stroke-width="1.55"/>
<circle cx="481.27" cy="1549.90" r="6.41" fill="none" stroke="#E41414" stroke-width="1.55"/>
<circle cx="533.03" cy="1549.90" r="6.41" fill="none" stroke="#E41414" stroke-width="1.55"/>
<polyline points="118.95,1502.48 170.71,1524.65 222.47,1534.47 274.23,1506.69 325.99,1533.91 377.75,1549.90 429.51,1549.90 481.27,1547.09 533.03,1549.90" fill="none" stroke="#D81818" stroke-width="1.6" stroke-linejoin="round"/>
<rect x="112.85" y="1496.38" width="12.20" height="12.20" fill="none" stroke="#E41414" stroke-width="1.55"/>
<rect x="164.61" y="1518.55" width="12.20" height="12.20" fill="none" stroke="#E41414" stroke-width="1.55"/>
<rect x="216.37" y="1528.37" width="12.20" height="12.20" fill="none" stroke="#E41414" stroke-width="1.55"/>
<rect x="268.13" y="1500.59" width="12.20" height="12.20" fill="none" stroke="#E41414" stroke-width="1.55"/>
<rect x="319.89" y="1527.81" width="12.20" height="12.20" fill="none" stroke="#E41414" stroke-width="1.55"/>
<rect x="371.65" y="1543.80" width="12.20" height="12.20" fill="none" stroke="#E41414" stroke-width="1.55"/>
<rect x="423.41" y="1543.80" width="12.20" height="12.20" fill="none" stroke="#E41414" stroke-width="1.55"/>
<rect x="475.17" y="1540.99" width="12.20" height="12.20" fill="none" stroke="#E41414" stroke-width="1.55"/>
<rect x="526.93" y="1543.80" width="12.20" height="12.20" fill="none" stroke="#E41414" stroke-width="1.55"/>
<polyline points="118.95,1549.90 170.71,1549.90 222.47,1549.90 274.23,1549.90 325.99,1412.13 377.75,1549.90 429.51,1549.90 481.27,1549.90 533.03,1549.90" fill="none" stroke="#268A40" stroke-width="1.6" stroke-linejoin="round"/>
<polyline points="118.95,1549.90 170.71,1549.90 222.47,1549.90 274.23,1549.90 325.99,1356.01 377.75,1549.90 429.51,1549.90 481.27,1549.90 533.03,1549.90" fill="none" stroke="#268A40" stroke-width="1.6" stroke-linejoin="round"/>
<polyline points="118.95,1549.90 170.71,1549.90 222.47,1549.90 274.23,1549.90 325.99,1426.72 377.75,1549.90 429.51,1549.90 481.27,1549.90 533.03,1549.90" fill="none" stroke="#268A40" stroke-width="1.6" stroke-linejoin="round"/>
<polyline points="118.95,1549.90 170.71,1549.90 222.47,1549.90 274.23,1549.90 325.99,1477.22 377.75,1549.90 429.51,1549.90 481.27,1549.90 533.03,1549.90" fill="none" stroke="#268A40" stroke-width="1.6" stroke-linejoin="round"/>
<polyline points="118.95,1549.90 170.71,1549.90 222.47,1549.90 274.23,1549.90 325.99,1269.30 377.75,1354.32 429.51,1269.30 481.27,1269.30 533.03,1382.94" fill="none" stroke="#1400FA" stroke-width="1.6" stroke-linejoin="round"/>
<polyline points="118.95,1549.90 170.71,1549.90 222.47,1549.90 274.23,1549.90 325.99,1403.43 377.75,1269.30 429.51,1437.10 481.27,1464.04 533.03,1269.30" fill="none" stroke="#1400FA" stroke-width="1.6" stroke-linejoin="round"/>
<circle cx="118.95" cy="1549.90" r="6.62" fill="none" stroke="#268A40" stroke-width="1.5"/>
<path d="M112.34,1550.50 A6.62,6.62 0 0 1 125.56,1550.50 Z" fill="#268A40"/>
<circle cx="170.71" cy="1549.90" r="6.62" fill="none" stroke="#268A40" stroke-width="1.5"/>
<path d="M164.09,1550.50 A6.62,6.62 0 0 1 177.33,1550.50 Z" fill="#268A40"/>
<circle cx="222.47" cy="1549.90" r="6.62" fill="none" stroke="#268A40" stroke-width="1.5"/>
<path d="M215.85,1550.50 A6.62,6.62 0 0 1 229.09,1550.50 Z" fill="#268A40"/>
<circle cx="274.23" cy="1549.90" r="6.62" fill="none" stroke="#268A40" stroke-width="1.5"/>
<path d="M267.62,1550.50 A6.62,6.62 0 0 1 280.85,1550.50 Z" fill="#268A40"/>
<circle cx="325.99" cy="1412.13" r="6.62" fill="none" stroke="#268A40" stroke-width="1.5"/>
<path d="M319.38,1412.73 A6.62,6.62 0 0 1 332.61,1412.73 Z" fill="#268A40"/>
<circle cx="377.75" cy="1549.90" r="6.62" fill="none" stroke="#268A40" stroke-width="1.5"/>
<path d="M371.13,1550.50 A6.62,6.62 0 0 1 384.37,1550.50 Z" fill="#268A40"/>
<circle cx="429.51" cy="1549.90" r="6.62" fill="none" stroke="#268A40" stroke-width="1.5"/>
<path d="M422.89,1550.50 A6.62,6.62 0 0 1 436.12,1550.50 Z" fill="#268A40"/>
<circle cx="481.27" cy="1549.90" r="6.62" fill="none" stroke="#268A40" stroke-width="1.5"/>
<path d="M474.65,1550.50 A6.62,6.62 0 0 1 487.88,1550.50 Z" fill="#268A40"/>
<circle cx="533.03" cy="1549.90" r="6.62" fill="none" stroke="#268A40" stroke-width="1.5"/>
<path d="M526.41,1550.50 A6.62,6.62 0 0 1 539.64,1550.50 Z" fill="#268A40"/>
<rect x="112.65" y="1543.60" width="12.60" height="12.60" fill="none" stroke="#268A40" stroke-width="1.5"/>
<rect x="112.65" y="1543.60" width="12.60" height="7.24" fill="#268A40"/>
<rect x="164.41" y="1543.60" width="12.60" height="12.60" fill="none" stroke="#268A40" stroke-width="1.5"/>
<rect x="164.41" y="1543.60" width="12.60" height="7.24" fill="#268A40"/>
<rect x="216.17" y="1543.60" width="12.60" height="12.60" fill="none" stroke="#268A40" stroke-width="1.5"/>
<rect x="216.17" y="1543.60" width="12.60" height="7.24" fill="#268A40"/>
<rect x="267.93" y="1543.60" width="12.60" height="12.60" fill="none" stroke="#268A40" stroke-width="1.5"/>
<rect x="267.93" y="1543.60" width="12.60" height="7.24" fill="#268A40"/>
<rect x="319.69" y="1349.71" width="12.60" height="12.60" fill="none" stroke="#268A40" stroke-width="1.5"/>
<rect x="319.69" y="1349.71" width="12.60" height="7.24" fill="#268A40"/>
<rect x="371.45" y="1543.60" width="12.60" height="12.60" fill="none" stroke="#268A40" stroke-width="1.5"/>
<rect x="371.45" y="1543.60" width="12.60" height="7.24" fill="#268A40"/>
<rect x="423.21" y="1543.60" width="12.60" height="12.60" fill="none" stroke="#268A40" stroke-width="1.5"/>
<rect x="423.21" y="1543.60" width="12.60" height="7.24" fill="#268A40"/>
<rect x="474.97" y="1543.60" width="12.60" height="12.60" fill="none" stroke="#268A40" stroke-width="1.5"/>
<rect x="474.97" y="1543.60" width="12.60" height="7.24" fill="#268A40"/>
<rect x="526.73" y="1543.60" width="12.60" height="12.60" fill="none" stroke="#268A40" stroke-width="1.5"/>
<rect x="526.73" y="1543.60" width="12.60" height="7.24" fill="#268A40"/>
<polygon points="118.95,1543.73 125.25,1555.70 112.65,1555.70" fill="none" stroke="#268A40" stroke-width="1.5"/>
<polygon points="118.95,1543.73 119.75,1555.70 112.65,1555.70" fill="#268A40" stroke="#268A40" stroke-width="0.8999999999999999"/>
<polygon points="170.71,1543.73 177.01,1555.70 164.41,1555.70" fill="none" stroke="#268A40" stroke-width="1.5"/>
<polygon points="170.71,1543.73 171.51,1555.70 164.41,1555.70" fill="#268A40" stroke="#268A40" stroke-width="0.8999999999999999"/>
<polygon points="222.47,1543.73 228.77,1555.70 216.17,1555.70" fill="none" stroke="#268A40" stroke-width="1.5"/>
<polygon points="222.47,1543.73 223.27,1555.70 216.17,1555.70" fill="#268A40" stroke="#268A40" stroke-width="0.8999999999999999"/>
<polygon points="274.23,1543.73 280.53,1555.70 267.93,1555.70" fill="none" stroke="#268A40" stroke-width="1.5"/>
<polygon points="274.23,1543.73 275.03,1555.70 267.93,1555.70" fill="#268A40" stroke="#268A40" stroke-width="0.8999999999999999"/>
<polygon points="325.99,1420.54 332.29,1432.51 319.69,1432.51" fill="none" stroke="#268A40" stroke-width="1.5"/>
<polygon points="325.99,1420.54 326.79,1432.51 319.69,1432.51" fill="#268A40" stroke="#268A40" stroke-width="0.8999999999999999"/>
<polygon points="377.75,1543.73 384.05,1555.70 371.45,1555.70" fill="none" stroke="#268A40" stroke-width="1.5"/>
<polygon points="377.75,1543.73 378.55,1555.70 371.45,1555.70" fill="#268A40" stroke="#268A40" stroke-width="0.8999999999999999"/>
<polygon points="429.51,1543.73 435.81,1555.70 423.21,1555.70" fill="none" stroke="#268A40" stroke-width="1.5"/>
<polygon points="429.51,1543.73 430.31,1555.70 423.21,1555.70" fill="#268A40" stroke="#268A40" stroke-width="0.8999999999999999"/>
<polygon points="481.27,1543.73 487.57,1555.70 474.97,1555.70" fill="none" stroke="#268A40" stroke-width="1.5"/>
<polygon points="481.27,1543.73 482.07,1555.70 474.97,1555.70" fill="#268A40" stroke="#268A40" stroke-width="0.8999999999999999"/>
<polygon points="533.03,1543.73 539.33,1555.70 526.73,1555.70" fill="none" stroke="#268A40" stroke-width="1.5"/>
<polygon points="533.03,1543.73 533.83,1555.70 526.73,1555.70" fill="#268A40" stroke="#268A40" stroke-width="0.8999999999999999"/>
<polygon points="118.95,1556.07 125.25,1544.10 112.65,1544.10" fill="none" stroke="#268A40" stroke-width="1.5"/>
<polygon points="118.95,1556.07 119.75,1544.10 112.65,1544.10" fill="#268A40" stroke="#268A40" stroke-width="0.8999999999999999"/>
<polygon points="170.71,1556.07 177.01,1544.10 164.41,1544.10" fill="none" stroke="#268A40" stroke-width="1.5"/>
<polygon points="170.71,1556.07 171.51,1544.10 164.41,1544.10" fill="#268A40" stroke="#268A40" stroke-width="0.8999999999999999"/>
<polygon points="222.47,1556.07 228.77,1544.10 216.17,1544.10" fill="none" stroke="#268A40" stroke-width="1.5"/>
<polygon points="222.47,1556.07 223.27,1544.10 216.17,1544.10" fill="#268A40" stroke="#268A40" stroke-width="0.8999999999999999"/>
<polygon points="274.23,1556.07 280.53,1544.10 267.93,1544.10" fill="none" stroke="#268A40" stroke-width="1.5"/>
<polygon points="274.23,1556.07 275.03,1544.10 267.93,1544.10" fill="#268A40" stroke="#268A40" stroke-width="0.8999999999999999"/>
<polygon points="325.99,1483.40 332.29,1471.43 319.69,1471.43" fill="none" stroke="#268A40" stroke-width="1.5"/>
<polygon points="325.99,1483.40 326.79,1471.43 319.69,1471.43" fill="#268A40" stroke="#268A40" stroke-width="0.8999999999999999"/>
<polygon points="377.75,1556.07 384.05,1544.10 371.45,1544.10" fill="none" stroke="#268A40" stroke-width="1.5"/>
<polygon points="377.75,1556.07 378.55,1544.10 371.45,1544.10" fill="#268A40" stroke="#268A40" stroke-width="0.8999999999999999"/>
<polygon points="429.51,1556.07 435.81,1544.10 423.21,1544.10" fill="none" stroke="#268A40" stroke-width="1.5"/>
<polygon points="429.51,1556.07 430.31,1544.10 423.21,1544.10" fill="#268A40" stroke="#268A40" stroke-width="0.8999999999999999"/>
<polygon points="481.27,1556.07 487.57,1544.10 474.97,1544.10" fill="none" stroke="#268A40" stroke-width="1.5"/>
<polygon points="481.27,1556.07 482.07,1544.10 474.97,1544.10" fill="#268A40" stroke="#268A40" stroke-width="0.8999999999999999"/>
<polygon points="533.03,1556.07 539.33,1544.10 526.73,1544.10" fill="none" stroke="#268A40" stroke-width="1.5"/>
<polygon points="533.03,1556.07 533.83,1544.10 526.73,1544.10" fill="#268A40" stroke="#268A40" stroke-width="0.8999999999999999"/>
<circle cx="118.95" cy="1549.90" r="6.40" fill="#1400FA"/>
<circle cx="170.71" cy="1549.90" r="6.40" fill="#1400FA"/>
<circle cx="222.47" cy="1549.90" r="6.40" fill="#1400FA"/>
<circle cx="274.23" cy="1549.90" r="6.40" fill="#1400FA"/>
<circle cx="325.99" cy="1269.30" r="6.40" fill="#1400FA"/>
<circle cx="377.75" cy="1354.32" r="6.40" fill="#1400FA"/>
<circle cx="429.51" cy="1269.30" r="6.40" fill="#1400FA"/>
<circle cx="481.27" cy="1269.30" r="6.40" fill="#1400FA"/>
<circle cx="533.03" cy="1382.94" r="6.40" fill="#1400FA"/>
<polygon points="118.95,1543.60 125.40,1556.00 112.50,1556.00" fill="#1400FA"/>
<polygon points="170.71,1543.60 177.16,1556.00 164.26,1556.00" fill="#1400FA"/>
<polygon points="222.47,1543.60 228.92,1556.00 216.02,1556.00" fill="#1400FA"/>
<polygon points="274.23,1543.60 280.68,1556.00 267.78,1556.00" fill="#1400FA"/>
<polygon points="325.99,1397.13 332.44,1409.53 319.54,1409.53" fill="#1400FA"/>
<polygon points="377.75,1263.00 384.20,1275.40 371.30,1275.40" fill="#1400FA"/>
<polygon points="429.51,1430.80 435.96,1443.20 423.06,1443.20" fill="#1400FA"/>
<polygon points="481.27,1457.74 487.72,1470.14 474.82,1470.14" fill="#1400FA"/>
<polygon points="533.03,1263.00 539.48,1275.40 526.58,1275.40" fill="#1400FA"/>
<circle cx="117.20" cy="1249.20" r="6.93" fill="none" stroke="#268A40" stroke-width="1.6"/>
<path d="M110.27,1249.80 A6.93,6.93 0 0 1 124.13,1249.80 Z" fill="#268A40"/>
<text transform="translate(135.88,1255.90) scale(1.060,1)" font-size="20.30" fill="#000" stroke="#000" stroke-width="0.40">PIA</text>
<rect x="110.60" y="1260.00" width="13.20" height="13.20" fill="none" stroke="#268A40" stroke-width="1.6"/>
<rect x="110.60" y="1260.00" width="13.20" height="7.59" fill="#268A40"/>
<text transform="translate(135.88,1273.30) scale(1.060,1)" font-size="20.30" fill="#000" stroke="#000" stroke-width="0.40">P1B</text>
<polygon points="117.20,1279.62 123.30,1291.21 111.10,1291.21" fill="none" stroke="#268A40" stroke-width="1.6"/>
<polygon points="117.20,1279.62 118.00,1291.21 111.10,1291.21" fill="#268A40" stroke="#268A40" stroke-width="0.96"/>
<text transform="translate(135.88,1291.00) scale(1.060,1)" font-size="20.30" fill="#000" stroke="#000" stroke-width="0.40">PIVE</text>
<polygon points="117.20,1308.18 123.30,1296.59 111.10,1296.59" fill="none" stroke="#268A40" stroke-width="1.6"/>
<polygon points="117.20,1308.18 118.00,1296.59 111.10,1296.59" fill="#268A40" stroke="#268A40" stroke-width="0.96"/>
<text transform="translate(135.88,1308.70) scale(1.060,1)" font-size="20.30" fill="#000" stroke="#000" stroke-width="0.40">p2600.94</text>
<text transform="translate(5.79,1634.00) scale(1.018,1)" font-size="27.80" fill="#000" stroke="#000" stroke-width="0.40">(e)</text>
<line x1="95.10" y1="1635.10" x2="95.10" y2="1948.60" stroke="#000" stroke-width="1.7" />
<line x1="94.30" y1="1947.80" x2="566.80" y2="1947.80" stroke="#000" stroke-width="1.7" />
<line x1="90.30" y1="1663.20" x2="95.10" y2="1663.20" stroke="#000" stroke-width="1.7" />
<text transform="translate(51.86,1670.50) scale(1.045,1)" font-size="21.30" fill="#000" stroke="#000" stroke-width="0.40">100</text>
<line x1="90.30" y1="1805.50" x2="95.10" y2="1805.50" stroke="#000" stroke-width="1.7" />
<text transform="translate(64.24,1812.80) scale(1.045,1)" font-size="21.30" fill="#000" stroke="#000" stroke-width="0.40">50</text>
<line x1="90.30" y1="1947.80" x2="95.10" y2="1947.80" stroke="#000" stroke-width="1.7" />
<text transform="translate(76.61,1955.10) scale(1.045,1)" font-size="21.30" fill="#000" stroke="#000" stroke-width="0.40">0</text>
<line x1="121.00" y1="1947.80" x2="121.00" y2="1952.20" stroke="#000" stroke-width="1.7" />
<text transform="translate(113.08,1972.70) scale(1.020,1)" font-size="21.50" fill="#000" stroke="#000" stroke-width="0.40">A</text>
<line x1="173.50" y1="1947.80" x2="173.50" y2="1952.20" stroke="#000" stroke-width="1.7" />
<text transform="translate(165.36,1972.70) scale(1.020,1)" font-size="21.50" fill="#000" stroke="#000" stroke-width="0.40">B</text>
<line x1="226.00" y1="1947.80" x2="226.00" y2="1952.20" stroke="#000" stroke-width="1.7" />
<text transform="translate(217.93,1972.70) scale(1.020,1)" font-size="21.50" fill="#000" stroke="#000" stroke-width="0.40">C</text>
<line x1="278.50" y1="1947.80" x2="278.50" y2="1952.20" stroke="#000" stroke-width="1.7" />
<text transform="translate(270.32,1972.70) scale(1.020,1)" font-size="21.50" fill="#000" stroke="#000" stroke-width="0.40">D</text>
<line x1="331.00" y1="1947.80" x2="331.00" y2="1952.20" stroke="#000" stroke-width="1.7" />
<text transform="translate(323.39,1972.70) scale(1.020,1)" font-size="21.50" fill="#000" stroke="#000" stroke-width="0.40">E</text>
<line x1="383.50" y1="1947.80" x2="383.50" y2="1952.20" stroke="#000" stroke-width="1.7" />
<text transform="translate(376.48,1972.70) scale(1.020,1)" font-size="21.50" fill="#000" stroke="#000" stroke-width="0.40">F</text>
<line x1="436.00" y1="1947.80" x2="436.00" y2="1952.20" stroke="#000" stroke-width="1.7" />
<text transform="translate(427.69,1972.70) scale(1.020,1)" font-size="21.50" fill="#000" stroke="#000" stroke-width="0.40">G</text>
<line x1="488.50" y1="1947.80" x2="488.50" y2="1952.20" stroke="#000" stroke-width="1.7" />
<text transform="translate(480.61,1972.70) scale(1.020,1)" font-size="21.50" fill="#000" stroke="#000" stroke-width="0.40">H</text>
<line x1="541.00" y1="1947.80" x2="541.00" y2="1952.20" stroke="#000" stroke-width="1.7" />
<text transform="translate(537.97,1972.70) scale(1.020,1)" font-size="21.50" fill="#000" stroke="#000" stroke-width="0.40">I</text>
<text transform="translate(38.60,1917.53) rotate(-90) scale(0.995,1)" font-size="26.30" fill="#000" stroke="#000" stroke-width="0.4">Relative intensity (%)</text>
<text transform="translate(239.92,2015.50) scale(0.974,1)" font-size="26.80" fill="#000" stroke="#000" stroke-width="0.40">Specimen ID</text>
<polyline points="121.00,1947.80 173.50,1947.80 226.00,1947.80 278.50,1947.80 331.00,1663.20 383.50,1749.43 436.00,1663.20 488.50,1663.20 541.00,1778.75" fill="none" stroke="#1400FA" stroke-width="1.6" stroke-linejoin="round"/>
<polyline points="121.00,1947.80 173.50,1947.80 226.00,1947.80 278.50,1947.80 331.00,1936.42 383.50,1779.60 436.00,1947.80 488.50,1811.19 541.00,1947.80" fill="none" stroke="#1400FA" stroke-width="1.6" stroke-linejoin="round"/>
<polyline points="121.00,1947.80 173.50,1947.80 226.00,1947.80 278.50,1947.80 331.00,1798.67 383.50,1663.20 436.00,1833.96 488.50,1861.28 541.00,1663.20" fill="none" stroke="#1400FA" stroke-width="1.6" stroke-linejoin="round"/>
<polyline points="121.00,1947.80 173.50,1947.80 226.00,1947.80 278.50,1947.80 331.00,1841.08 383.50,1782.73 436.00,1947.80 488.50,1727.80 541.00,1856.16" fill="none" stroke="#1400FA" stroke-width="1.6" stroke-linejoin="round"/>
<polyline points="121.00,1947.80 173.50,1947.80 226.00,1947.80 278.50,1947.80 331.00,1924.46 383.50,1855.87 436.00,1928.73 488.50,1920.76 541.00,1909.38" fill="none" stroke="#1400FA" stroke-width="1.6" stroke-linejoin="round"/>
<polyline points="121.00,1947.80 173.50,1947.80 226.00,1947.80 278.50,1947.80 331.00,1945.52 383.50,1883.20 436.00,1888.89 488.50,1924.75 541.00,1927.59" fill="none" stroke="#1400FA" stroke-width="1.6" stroke-linejoin="round"/>
<circle cx="121.00" cy="1947.80" r="6.40" fill="#1400FA"/>
<circle cx="173.50" cy="1947.80" r="6.40" fill="#1400FA"/>
<circle cx="226.00" cy="1947.80" r="6.40" fill="#1400FA"/>
<circle cx="278.50" cy="1947.80" r="6.40" fill="#1400FA"/>
<circle cx="331.00" cy="1663.20" r="6.40" fill="#1400FA"/>
<circle cx="383.50" cy="1749.43" r="6.40" fill="#1400FA"/>
<circle cx="436.00" cy="1663.20" r="6.40" fill="#1400FA"/>
<circle cx="488.50" cy="1663.20" r="6.40" fill="#1400FA"/>
<circle cx="541.00" cy="1778.75" r="6.40" fill="#1400FA"/>
<polygon points="121.00,1941.50 127.45,1953.90 114.55,1953.90" fill="#1400FA"/>
<polygon points="173.50,1941.50 179.95,1953.90 167.05,1953.90" fill="#1400FA"/>
<polygon points="226.00,1941.50 232.45,1953.90 219.55,1953.90" fill="#1400FA"/>
<polygon points="278.50,1941.50 284.95,1953.90 272.05,1953.90" fill="#1400FA"/>
<polygon points="331.00,1792.37 337.45,1804.77 324.55,1804.77" fill="#1400FA"/>
<polygon points="383.50,1656.90 389.95,1669.30 377.05,1669.30" fill="#1400FA"/>
<polygon points="436.00,1827.66 442.45,1840.06 429.55,1840.06" fill="#1400FA"/>
<polygon points="488.50,1854.98 494.95,1867.38 482.05,1867.38" fill="#1400FA"/>
<polygon points="541.00,1656.90 547.45,1669.30 534.55,1669.30" fill="#1400FA"/>
<polygon points="121.00,1954.10 127.45,1941.70 114.55,1941.70" fill="#1400FA"/>
<polygon points="173.50,1954.10 179.95,1941.70 167.05,1941.70" fill="#1400FA"/>
<polygon points="226.00,1954.10 232.45,1941.70 219.55,1941.70" fill="#1400FA"/>
<polygon points="278.50,1954.10 284.95,1941.70 272.05,1941.70" fill="#1400FA"/>
<polygon points="331.00,1847.38 337.45,1834.98 324.55,1834.98" fill="#1400FA"/>
<polygon points="383.50,1789.03 389.95,1776.63 377.05,1776.63" fill="#1400FA"/>
<polygon points="436.00,1954.10 442.45,1941.70 429.55,1941.70" fill="#1400FA"/>
<polygon points="488.50,1734.10 494.95,1721.70 482.05,1721.70" fill="#1400FA"/>
<polygon points="541.00,1862.46 547.45,1850.06 534.55,1850.06" fill="#1400FA"/>
<polygon points="121.00,1940.90 127.90,1947.80 121.00,1954.70 114.10,1947.80" fill="#1400FA"/>
<polygon points="173.50,1940.90 180.40,1947.80 173.50,1954.70 166.60,1947.80" fill="#1400FA"/>
<polygon points="226.00,1940.90 232.90,1947.80 226.00,1954.70 219.10,1947.80" fill="#1400FA"/>
<polygon points="278.50,1940.90 285.40,1947.80 278.50,1954.70 271.60,1947.80" fill="#1400FA"/>
<polygon points="331.00,1917.56 337.90,1924.46 331.00,1931.36 324.10,1924.46" fill="#1400FA"/>
<polygon points="383.50,1848.97 390.40,1855.87 383.50,1862.77 376.60,1855.87" fill="#1400FA"/>
<polygon points="436.00,1921.83 442.90,1928.73 436.00,1935.63 429.10,1928.73" fill="#1400FA"/>
<polygon points="488.50,1913.86 495.40,1920.76 488.50,1927.66 481.60,1920.76" fill="#1400FA"/>
<polygon points="541.00,1902.48 547.90,1909.38 541.00,1916.28 534.10,1909.38" fill="#1400FA"/>
<polygon points="114.20,1947.80 117.60,1942.20 124.40,1942.20 127.80,1947.80 124.40,1953.40 117.60,1953.40" fill="#1400FA"/>
<polygon points="166.70,1947.80 170.10,1942.20 176.90,1942.20 180.30,1947.80 176.90,1953.40 170.10,1953.40" fill="#1400FA"/>
<polygon points="219.20,1947.80 222.60,1942.20 229.40,1942.20 232.80,1947.80 229.40,1953.40 222.60,1953.40" fill="#1400FA"/>
<polygon points="271.70,1947.80 275.10,1942.20 281.90,1942.20 285.30,1947.80 281.90,1953.40 275.10,1953.40" fill="#1400FA"/>
<polygon points="324.20,1945.52 327.60,1939.92 334.40,1939.92 337.80,1945.52 334.40,1951.12 327.60,1951.12" fill="#1400FA"/>
<polygon points="376.70,1883.20 380.10,1877.60 386.90,1877.60 390.30,1883.20 386.90,1888.80 380.10,1888.80" fill="#1400FA"/>
<polygon points="429.20,1888.89 432.60,1883.29 439.40,1883.29 442.80,1888.89 439.40,1894.49 432.60,1894.49" fill="#1400FA"/>
<polygon points="481.70,1924.75 485.10,1919.15 491.90,1919.15 495.30,1924.75 491.90,1930.35 485.10,1930.35" fill="#1400FA"/>
<polygon points="534.20,1927.59 537.60,1921.99 544.40,1921.99 547.80,1927.59 544.40,1933.19 537.60,1933.19" fill="#1400FA"/>
<rect x="114.75" y="1941.55" width="12.50" height="12.50" fill="#1400FA"/>
<rect x="167.25" y="1941.55" width="12.50" height="12.50" fill="#1400FA"/>
<rect x="219.75" y="1941.55" width="12.50" height="12.50" fill="#1400FA"/>
<rect x="272.25" y="1941.55" width="12.50" height="12.50" fill="#1400FA"/>
<rect x="324.75" y="1930.17" width="12.50" height="12.50" fill="#1400FA"/>
<rect x="377.25" y="1773.35" width="12.50" height="12.50" fill="#1400FA"/>
<rect x="429.75" y="1941.55" width="12.50" height="12.50" fill="#1400FA"/>
<rect x="482.25" y="1804.94" width="12.50" height="12.50" fill="#1400FA"/>
<rect x="534.75" y="1941.55" width="12.50" height="12.50" fill="#1400FA"/>
<circle cx="120.90" cy="1642.20" r="5.67" fill="#1400FA"/>
<text transform="translate(139.58,1648.30) scale(1.060,1)" font-size="20.30" fill="#000" stroke="#000" stroke-width="0.40">PIIIE</text>
<rect x="114.96" y="1657.86" width="11.89" height="11.89" fill="#1400FA"/>
<text transform="translate(139.58,1669.70) scale(1.060,1)" font-size="20.30" fill="#000" stroke="#000" stroke-width="0.40">PIVA</text>
<polygon points="120.90,1678.71 127.03,1690.50 114.77,1690.50" fill="#1400FA"/>
<text transform="translate(139.58,1690.80) scale(1.060,1)" font-size="20.30" fill="#000" stroke="#000" stroke-width="0.40">p4333.68</text>
<polygon points="120.90,1710.79 127.03,1699.00 114.77,1699.00" fill="#1400FA"/>
<text transform="translate(139.58,1712.20) scale(1.060,1)" font-size="20.30" fill="#000" stroke="#000" stroke-width="0.40">p2630.95</text>
<polygon points="120.90,1719.27 128.03,1726.40 120.90,1733.53 113.77,1726.40" fill="#1400FA"/>
<text transform="translate(139.58,1733.10) scale(1.060,1)" font-size="20.30" fill="#000" stroke="#000" stroke-width="0.40">p4377.67</text>
<polygon points="113.88,1747.80 117.39,1742.02 124.41,1742.02 127.92,1747.80 124.41,1753.58 117.39,1753.58" fill="#1400FA"/>
<text transform="translate(139.58,1754.00) scale(1.060,1)" font-size="20.30" fill="#000" stroke="#000" stroke-width="0.40">p1458.59</text>
</svg></body></html>
